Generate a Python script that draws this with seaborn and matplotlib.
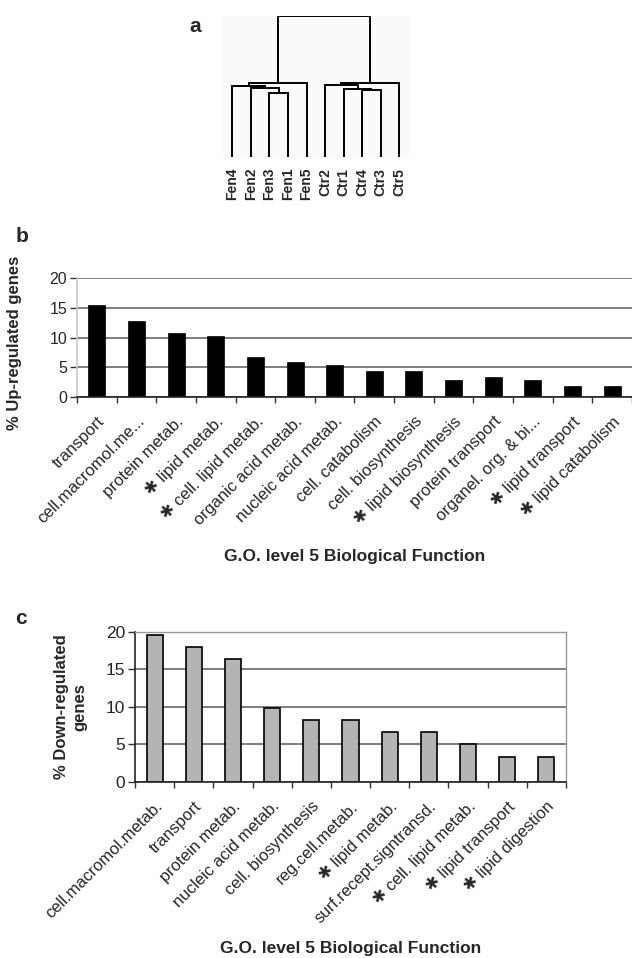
import matplotlib
matplotlib.use("Agg")
import matplotlib.pyplot as plt
import seaborn as sns
import numpy as np
import pandas as pd

sns.set_theme(style="white")
plt.rcParams['font.family'] = ['Liberation Sans', 'DejaVu Sans']

# ---------------- data ----------------
# dendrogram (panel a)
leaves = ['Fen4', 'Fen2', 'Fen3', 'Fen1', 'Fen5', 'Ctr2', 'Ctr1', 'Ctr4', 'Ctr3', 'Ctr5']
link_a = ['Fen3', 'Fen2', 'Fen4', 'G3', 'Ctr4', 'Ctr1', 'Ctr2', 'G7', 'G4']
link_b = ['Fen1', 'G1', 'G2', 'Fen5', 'Ctr3', 'G5', 'G6', 'Ctr5', 'G8']
link_h = [0.450, 0.485, 0.504, 0.521, 0.470, 0.482, 0.508, 0.521, 1.0]

# panel b: up-regulated
up_cats = ['transport', 'cell.macromol.me...', 'protein metab.', 'lipid metab.',
           'cell. lipid metab.', 'organic acid metab.', 'nucleic acid metab.',
           'cell. catabolism', 'cell. biosynthesis', 'lipid biosynthesis',
           'protein transport', 'organel. org. & bi...', 'lipid transport',
           'lipid catabolism']
up_vals = [15.5, 12.8, 10.7, 10.3, 6.7, 5.8, 5.4, 4.3, 4.3, 2.8, 3.3, 2.8, 1.9, 1.9]
up_star = [False, False, False, True, True, False, False, False, False, True,
           False, False, True, True]

# panel c: down-regulated
down_cats = ['cell.macromol.metab.', 'transport', 'protein metab.',
             'nucleic acid metab.', 'cell. biosynthesis', 'reg.cell.metab.',
             'lipid metab.', 'surf.recept.signtransd.', 'cell. lipid metab.',
             'lipid transport', 'lipid digestion']
down_vals = [19.6, 18.0, 16.4, 9.9, 8.3, 8.3, 6.6, 6.6, 5.0, 3.3, 3.3]
down_star = [False, False, False, False, False, False, True, False, True, True, True]

yticks = [0, 5, 10, 15, 20]
xlabel = 'G.O. level 5 Biological Function'

fig = plt.figure(figsize=(6.32, 9.58), dpi=100)
W, H = 632.0, 958.0


def add_ax(l, t, r, b):
    return fig.add_axes([l / W, 1 - b / H, (r - l) / W, (b - t) / H])


# ---------------- panel a: dendrogram ----------------
axa = add_ax(223, 15.7, 408.6, 156.7)
pos = {name: float(i) for i, name in enumerate(leaves)}
hgt = {name: 0.0 for name in leaves}
for i, (a, b, h) in enumerate(zip(link_a, link_b, link_h)):
    xa, xb = pos[a], pos[b]
    ha_, hb_ = hgt[a], hgt[b]
    axa.plot([xa, xa, xb, xb], [ha_, h, h, hb_], color='black', lw=1.4,
             solid_joinstyle='miter')
    g = 'G%d' % (i + 1)
    pos[g] = (xa + xb) / 2
    hgt[g] = h
axa.set_xlim(-0.5, len(leaves) - 0.5)
axa.set_ylim(0, 1.0)
axa.set_facecolor('#fafafa')
for s in axa.spines.values():
    s.set_visible(False)
axa.set_yticks([])
axa.set_xticks(range(len(leaves)))
axa.set_xticklabels(leaves, rotation=90, fontsize=10, fontweight='bold', va='top')
axa.tick_params(axis='x', length=0, pad=8)
fig.text(195 / W, 1 - 27 / H, 'a', fontsize=15, fontweight='bold', ha='center', va='center')


def style_bar_axes(ax, cats, stars, ylabel, xlab_y, tick_fs, xlab_fs):
    n = len(cats)
    ax.set_xlim(-0.5, n - 0.5)
    ax.set_ylim(0, 20)
    ax.set_yticks(yticks)
    ax.set_yticklabels([str(v) for v in yticks], fontsize=tick_fs)
    ax.yaxis.grid(True, color='#5a5a5a', lw=1.1)
    ax.set_axisbelow(True)
    labels = [('\u2731 ' + c) if s else c for c, s in zip(cats, stars)]
    ax.set_xticks(range(n))
    ax.set_xticklabels(labels, rotation=45, ha='right', rotation_mode='anchor',
                       fontsize=12)
    ax.set_xticks(np.arange(-0.5, n, 1.0), minor=True)
    ax.tick_params(axis='x', which='major', length=0, pad=12)
    ax.tick_params(axis='x', which='minor', length=4, width=1, color='#333333',
                   direction='out', bottom=True)
    ax.tick_params(axis='y', length=5, width=1, color='#333333', direction='out',
                   left=True, pad=2)
    ax.set_xlabel(xlabel, fontsize=xlab_fs, fontweight='bold')
    ax.xaxis.label.set_va('center')
    ax.xaxis.set_label_coords(0.5, xlab_y)
    ax.set_ylabel(ylabel, fontsize=12, fontweight='bold', linespacing=1.3)
    ax.yaxis.label.set_va('center')


# ---------------- panel b ----------------
axb = add_ax(77, 278, 632, 397)
dfb = pd.DataFrame({'cat': up_cats, 'val': up_vals})
sns.barplot(data=dfb, x='cat', y='val', ax=axb, color='black', width=0.43,
            saturation=1, edgecolor='black', linewidth=0.5)
style_bar_axes(axb, up_cats, up_star, '% Up-regulated genes', -(557 - 397) / 119.0,
               11.5, 12.5)
for k in ['top', 'right']:
    axb.spines[k].set_visible(False)
axb.spines['left'].set_color('#cccccc')
axb.spines['bottom'].set_color('#222222')
axb.spines['bottom'].set_linewidth(1.2)
axb.yaxis.set_label_coords(-(77 - 15) / 555.0, (397 - 343) / 119.0)
fig.text(22 / W, 1 - 237 / H, 'b', fontsize=15, fontweight='bold', ha='center', va='center')

# ---------------- panel c ----------------
axc = add_ax(135, 631.7, 566, 782)
dfc = pd.DataFrame({'cat': down_cats, 'val': down_vals})
sns.barplot(data=dfc, x='cat', y='val', ax=axc, color='#b4b4b4', width=0.41,
            saturation=1, edgecolor='black', linewidth=1.2)
style_bar_axes(axc, down_cats, down_star, '% Down-regulated\ngenes', -(949 - 782) / 150.3,
               12.5, 12.5)
for k in ['top', 'right']:
    axc.spines[k].set_color('#999999')
    axc.spines[k].set_linewidth(1.0)
axc.spines['left'].set_color('#222222')
axc.spines['bottom'].set_color('#222222')
axc.spines['left'].set_linewidth(1.2)
axc.spines['bottom'].set_linewidth(1.2)
axc.yaxis.set_label_coords(-(135 - 71) / 431.0, (782 - 707) / 150.3)
fig.text(21 / W, 1 - 619 / H, 'c', fontsize=15, fontweight='bold', ha='center', va='center')

fig.savefig('out.png', dpi=100)
